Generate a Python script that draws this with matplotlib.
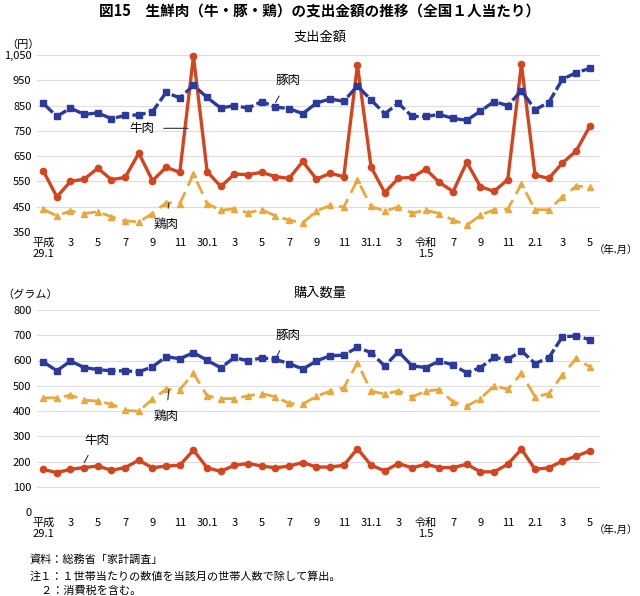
import matplotlib
matplotlib.use("Agg")
import matplotlib.pyplot as plt

plt.rcParams["font.family"] = "Noto Sans CJK JP"

tick_labels = ["平成\n29.1", "3", "5", "7", "9", "11", "30.1", "3", "5", "7", "9", "11",
               "31.1", "3", "令和\n1.5", "7", "9", "11", "2.1", "3", "5"]

spend_pork = [859, 807, 840, 815, 821, 798, 811, 813, 826, 902, 880, 930, 882, 840, 850, 840, 866, 844, 838, 818, 860,
              876, 867, 928, 872, 818, 859, 807, 807, 815, 799, 792, 828, 866, 850, 909, 834, 862, 954, 980, 997]
spend_beef = [593, 489, 550, 559, 602, 557, 566, 662, 553, 606, 586, 1045, 589, 530, 579, 577, 586, 569, 562, 629, 559,
              582, 569, 1010, 606, 506, 563, 566, 598, 546, 510, 626, 529, 511, 557, 1013, 575, 562, 623, 670, 768]
spend_chicken = [440, 414, 433, 423, 430, 410, 394, 390, 423, 466, 462, 579, 462, 436, 442, 426, 438, 414, 397, 386, 433,
                 455, 449, 556, 451, 433, 449, 425, 436, 423, 397, 377, 416, 438, 440, 540, 438, 438, 488, 531, 529]

qty_pork = [595, 559, 598, 572, 564, 559, 559, 555, 575, 615, 607, 631, 601, 571, 612, 598, 611, 604, 588, 566, 598,
            619, 621, 652, 631, 578, 635, 579, 572, 598, 582, 551, 572, 612, 604, 638, 588, 611, 694, 697, 683]
qty_chicken = [452, 452, 463, 443, 439, 427, 403, 399, 447, 486, 485, 549, 460, 449, 449, 460, 469, 456, 430, 427, 459,
               478, 492, 591, 479, 467, 480, 456, 479, 485, 436, 419, 449, 500, 486, 549, 456, 469, 542, 608, 575]
qty_beef = [169, 156, 169, 176, 182, 165, 176, 205, 175, 182, 185, 245, 175, 161, 185, 192, 182, 175, 182, 196, 178,
            178, 185, 251, 185, 163, 192, 175, 189, 176, 176, 189, 159, 159, 189, 249, 169, 175, 202, 221, 242]

BLUE = "#2B3A9B"
RED = "#D2451E"
GOLD = "#E9A83B"

x = list(range(len(spend_pork)))
fig = plt.figure(figsize=(6.4, 5.96), dpi=100)
W, H = 640, 596

def ax_at(l, t, r, b):
    return fig.add_axes([l / W, 1 - b / H, (r - l) / W, (b - t) / H])

def draw(ax, pork, beef, chicken, ylim, yticks, fmt):
    ax.plot(x, pork, color=BLUE, lw=2.4, ls=(0, (4, 1)), marker="s", ms=4, clip_on=False, zorder=4)
    ax.plot(x, beef, color=RED, lw=2.4, marker="o", ms=4.5, clip_on=False, zorder=3)
    ax.plot(x, chicken, color=GOLD, lw=2.0, ls=(0, (5, 2.5)), marker="^", ms=4, clip_on=False, zorder=2)
    ax.set_xlim(-0.45, 40.75)
    ax.set_ylim(*ylim)
    ax.set_yticks(yticks)
    ax.set_yticklabels([fmt(v) for v in yticks], fontsize=8)
    ax.set_xticks(x[::2])
    ax.set_xticklabels(tick_labels, fontsize=8, va="top")
    ax.grid(axis="y", color="#DDDDDD", lw=0.8)
    ax.set_axisbelow(True)
    for s in ax.spines.values():
        s.set_visible(False)
    ax.tick_params(length=0, pad=4)

ax1 = ax_at(37, 55, 600, 232)
draw(ax1, spend_pork, spend_beef, spend_chicken, (350, 1050), list(range(350, 1051, 100)), lambda v: f"{v:,}")
ax2 = ax_at(37, 310, 600, 512)
draw(ax2, qty_pork, qty_beef, qty_chicken, (0, 800), list(range(0, 801, 100)), lambda v: f"{v}")

def label(ax, text, xy, xytext):
    ax.annotate(text, xy=xy, xytext=xytext, fontsize=9, ha="center", va="center",
                arrowprops=dict(arrowstyle="-", color="#333333", lw=0.8, shrinkA=5, shrinkB=0))

label(ax1, "豚肉", (17.0, 862), (17.9, 948))
label(ax1, "牛肉", (10.6, 760), (7.2, 760))
label(ax1, "鶏肉", (9.2, 465), (9.0, 380))
label(ax2, "豚肉", (17.0, 606), (17.9, 700))
label(ax2, "鶏肉", (9.2, 485), (9.0, 380))
label(ax2, "牛肉", (3.0, 195), (3.9, 285))

fig.text(0.5, 1 - 11 / H, "図15　生鮮肉（牛・豚・鶏）の支出金額の推移（全国１人当たり）",
         ha="center", va="center", fontsize=10.5, fontweight="bold")
fig.text(320 / W, 1 - 37 / H, "支出金額", ha="center", va="center", fontsize=9.5)
fig.text(6 / W, 1 - 45 / H, "（円）", ha="left", va="center", fontsize=8)
fig.text(320 / W, 1 - 293 / H, "購入数量", ha="center", va="center", fontsize=9.5)
fig.text(2 / W, 1 - 295 / H, "（グラム）", ha="left", va="center", fontsize=8)
fig.text(638 / W, 1 - 250 / H, "（年.月）", ha="right", va="center", fontsize=7.5)
fig.text(638 / W, 1 - 530 / H, "（年.月）", ha="right", va="center", fontsize=7.5)
fig.text(30 / W, 1 - 560 / H, "資料：総務省「家計調査」", ha="left", va="center", fontsize=8)
fig.text(30 / W, 1 - 576 / H, "注１：１世帯当たりの数値を当該月の世帯人数で除して算出。", ha="left", va="center", fontsize=8)
fig.text(30 / W, 1 - 591 / H, "　２：消費税を含む。", ha="left", va="center", fontsize=8)

fig.savefig("out.png", dpi=100, facecolor="white")
